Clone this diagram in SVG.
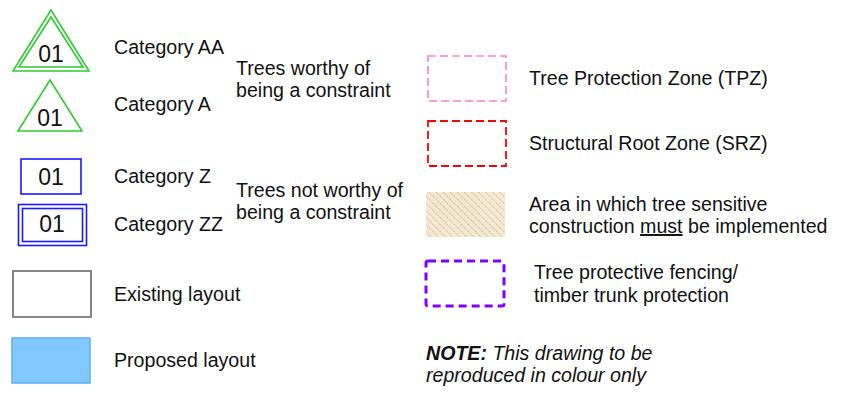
<svg xmlns="http://www.w3.org/2000/svg" width="843" height="393" viewBox="0 0 843 393">
<style>
text{font-family:"Liberation Sans",Arial,sans-serif;font-size:19.6px;fill:#111}
.num{font-size:23px;text-anchor:middle}
.tri{fill:none;stroke:#2ecc2e;stroke-width:1.6}
.bx{fill:none;stroke:#1a1aff;stroke-width:1.6}
</style>
<defs>
<pattern id="hatch" patternUnits="userSpaceOnUse" width="5" height="5" patternTransform="rotate(-45)">
<rect width="5" height="5" fill="#fbe6d2"/>
<line x1="2.5" y1="0" x2="2.5" y2="5" stroke="#9fd49a" stroke-width="0.9" stroke-dasharray="1.2 0.8"/>
</pattern>
</defs>
<g id="catAA">
<polygon class="tri" points="51,10 13,71 89,71"/>
<polygon class="tri" points="51,17 19,67 83,67"/>
<text class="num" x="51" y="62">01</text>
<text x="114" y="54">Category AA</text>
</g>
<g id="catA">
<polygon class="tri" points="50,80 18,131 82,131"/>
<text class="num" x="50" y="126">01</text>
<text x="114" y="111">Category A</text>
</g>
<g id="worthy">
<text x="236" y="75">Trees worthy of</text>
<text x="236" y="97">being a constraint</text>
</g>
<g id="catZ">
<rect class="bx" x="21" y="159" width="60" height="35"/>
<text class="num" x="51" y="185">01</text>
<text x="114" y="183">Category Z</text>
</g>
<g id="catZZ">
<rect class="bx" x="18.5" y="204.5" width="68" height="41"/>
<rect class="bx" x="22.5" y="208.5" width="60" height="33"/>
<text class="num" x="52" y="232">01</text>
<text x="114" y="231">Category ZZ</text>
</g>
<g id="notworthy">
<text x="236" y="197">Trees not worthy of</text>
<text x="236" y="219">being a constraint</text>
</g>
<g id="existing">
<rect x="13" y="271" width="78" height="46" fill="#fff" stroke="#888" stroke-width="2"/>
<text x="114" y="301">Existing layout</text>
</g>
<g id="proposed">
<rect x="12" y="338" width="78" height="45" fill="#80c8ff" stroke="#5ab0f5" stroke-width="1.5"/>
<text x="114" y="367">Proposed layout</text>
</g>
<g id="tpz">
<rect x="428" y="56" width="78" height="45" fill="none" stroke="#ff80c0" stroke-width="1.6" stroke-dasharray="8 4"/>
<text x="529" y="85">Tree Protection Zone (TPZ)</text>
</g>
<g id="srz">
<rect x="428" y="121" width="78" height="45" fill="none" stroke="#ff0000" stroke-width="1.8" stroke-dasharray="8 4"/>
<text x="529" y="150">Structural Root Zone (SRZ)</text>
</g>
<g id="sensitive">
<rect x="426" y="192" width="79" height="45" fill="url(#hatch)"/>
<text x="529" y="211">Area in which tree sensitive</text>
<text x="529" y="233">construction <tspan text-decoration="underline">must</tspan> be implemented</text>
</g>
<g id="fencing">
<rect x="426" y="261" width="78" height="45" rx="2" fill="none" stroke="#8000ff" stroke-width="3" stroke-dasharray="8 5"/>
<text x="534" y="279">Tree protective fencing/</text>
<text x="534" y="302">timber trunk protection</text>
</g>
<g id="note">
<text x="426" y="360" font-style="italic"><tspan font-weight="bold">NOTE:</tspan> This drawing to be</text>
<text x="426" y="382" font-style="italic">reproduced in colour only</text>
</g>
<g id="connectors"></g>
</svg>
